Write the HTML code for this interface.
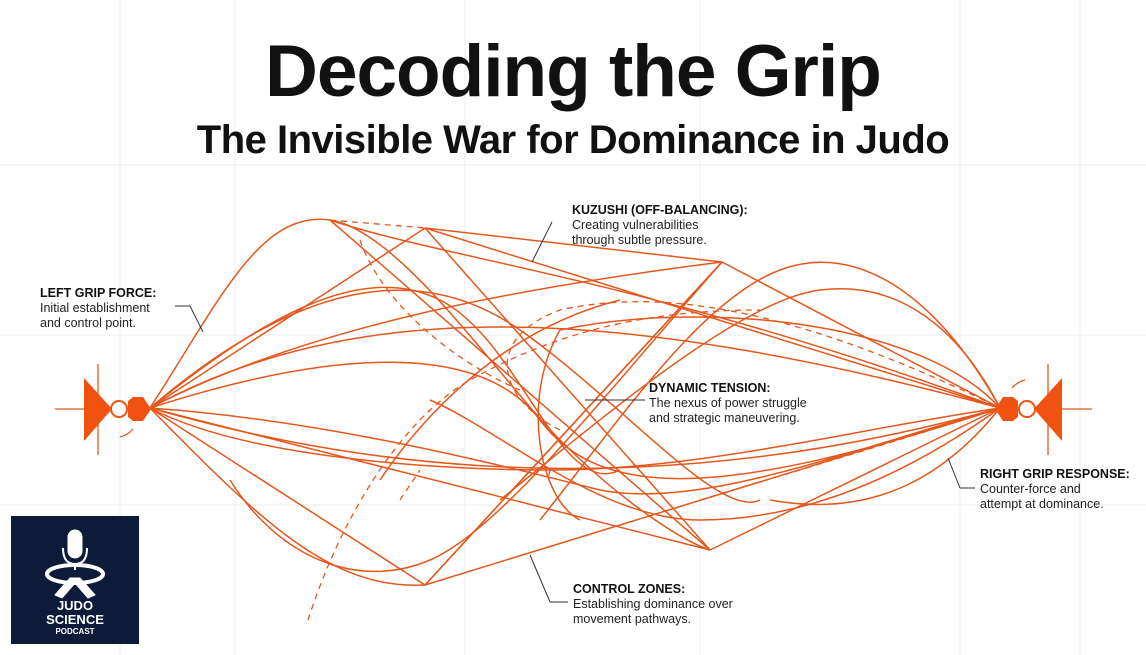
<!DOCTYPE html>
<html><head><meta charset="utf-8"><style>
body{margin:0;width:1146px;height:655px;background:#fff;overflow:hidden;position:relative;font-family:"Liberation Sans",sans-serif}
.t{position:absolute;left:0;width:1146px;text-align:center;color:#111;font-weight:bold}
.lab{position:absolute;font-size:12.5px;color:#222;line-height:15px}
.lab b{font-weight:bold;color:#111}
</style></head><body>
<svg width="1146" height="655" style="position:absolute;left:0;top:0">
<g stroke="#e9eef5" stroke-width="1">
<line x1="120" y1="0" x2="120" y2="655"/><line x1="235" y1="0" x2="235" y2="655"/><line x1="465" y1="0" x2="465" y2="655"/><line x1="700" y1="0" x2="700" y2="655"/><line x1="960" y1="0" x2="960" y2="655"/><line x1="1080" y1="0" x2="1080" y2="655"/>
<line x1="0" y1="165" x2="1146" y2="165"/><line x1="0" y1="335" x2="1146" y2="335"/><line x1="0" y1="505" x2="1146" y2="505"/>
</g>
<g fill="none" stroke="#e4571d" stroke-width="1.5">
<path d="M150 408 C220 300 260 210 330 220 C400 230 500 380 560 440 C620 500 680 540 710 550"/>
<path d="M150 408 L425 228 L722 262"/>
<path d="M150 408 C300 330 500 290 722 262"/>
<path d="M150 408 L425 585 L722 262"/>
<path d="M150 408 C260 520 330 590 425 585"/>
<path d="M150 408 L710 550"/>
<path d="M150 408 C330 350 480 340 540 420 C600 500 720 500 1000 408"/>
<path d="M150 408 C300 450 600 520 1000 408"/>
<path d="M150 408 C350 300 600 300 1000 408"/>
<path d="M150 408 C300 280 420 260 520 330 C620 400 720 520 760 500"/>
<path d="M150 408 C250 460 450 470 550 470 C700 470 850 430 1000 408"/>
<path d="M150 408 C260 320 360 260 440 300 C520 340 560 500 620 470"/>
<path d="M150 408 C320 420 480 460 600 490 C700 510 850 450 1000 408"/>
<path d="M330 220 L710 550"/>
<path d="M330 220 C450 260 650 280 1000 408"/>
<path d="M425 228 L1000 408"/>
<path d="M425 228 L710 550"/>
<path d="M722 262 L1000 408"/>
<path d="M722 262 L425 585"/>
<path d="M710 550 L1000 408"/>
<path d="M425 585 L1000 408"/>
<path d="M1000 408 C940 300 860 240 780 270 C700 300 620 420 540 520"/>
<path d="M1000 408 C960 330 900 280 820 290 C740 300 600 420 500 500"/>
<path d="M1000 408 C920 320 700 300 560 330 C520 400 540 500 580 520"/>
<path d="M1000 408 C900 480 800 520 700 520 C600 520 500 430 430 400"/>
<path d="M1000 408 C950 470 880 520 770 500"/>
<path d="M380 480 C420 420 500 330 620 300"/>
<path d="M230 480 C280 560 360 590 430 560 C500 530 600 400 722 262"/>
</g>
<g fill="none" stroke="#e4571d" stroke-width="1.3" stroke-dasharray="6 5">
<path d="M330 220 L425 228"/>
<path d="M360 240 C380 300 450 360 520 390"/>
<path d="M308 620 C340 520 400 420 470 380 C560 330 650 310 760 310"/>
<path d="M560 430 C500 400 480 340 560 310 C650 290 780 300 1000 408"/>
<path d="M700 500 C800 470 900 440 1000 408"/>
<path d="M550 470 L548 480"/>
<path d="M400 500 L420 470"/>
</g>
<g stroke="#e4571d" stroke-width="1.3" fill="none">
<line x1="55" y1="409" x2="85" y2="409"/><line x1="98" y1="364" x2="98" y2="455"/>
<line x1="1062" y1="409" x2="1092" y2="409"/><line x1="1048" y1="364" x2="1048" y2="455"/>
<path d="M120 437 Q128 435 133 429"/><path d="M1025 380 Q1017 382 1012 388"/>
<line x1="552" y1="222" x2="532" y2="262" stroke="#333" stroke-width="1"/>
<line x1="175" y1="306" x2="190" y2="306" stroke="#333" stroke-width="1"/><line x1="190" y1="306" x2="203" y2="332" stroke="#333" stroke-width="1"/>
<line x1="645" y1="400" x2="585" y2="400" stroke="#333" stroke-width="1"/>
<line x1="975" y1="488" x2="960" y2="488" stroke="#333" stroke-width="1"/><line x1="960" y1="488" x2="948" y2="458" stroke="#333" stroke-width="1"/>
<line x1="568" y1="602" x2="550" y2="602" stroke="#333" stroke-width="1"/><line x1="550" y1="602" x2="530" y2="555" stroke="#333" stroke-width="1"/>
</g>
<g fill="#f2520f">
<polygon points="84,378 84,441 112,409"/>
<path d="M128 401 L133 397 L143 397 L151 409 L143 421 L133 421 L128 417 Z"/>
<polygon points="1062,378 1062,441 1034,409"/>
<path d="M1018 401 L1013 397 L1003 397 L995 409 L1003 421 L1013 421 L1018 417 Z"/>
</g>
<circle cx="119" cy="409" r="8" fill="#fff" stroke="#f2520f" stroke-width="2"/>
<circle cx="1027" cy="409" r="8" fill="#fff" stroke="#f2520f" stroke-width="2"/>
<rect x="11" y="516" width="128" height="128" fill="#0e1a3a"/>
<g fill="#fff" stroke="#fff">
<rect x="68" y="530" width="14" height="28" rx="7"/>
<path d="M63 548 Q63 564 75 564 Q87 564 87 548" fill="none" stroke-width="2"/>
<line x1="75" y1="564" x2="75" y2="570" stroke-width="2"/>
<ellipse cx="75" cy="574" rx="28" ry="9" fill="none" stroke-width="4"/>
<path d="M70 578 L55 595 L62 598 L75 583 L88 598 L95 595 L80 578Z" stroke-width="1"/>
</g>
<text x="75" y="610" fill="#fff" font-family="Liberation Sans" font-weight="bold" font-size="13" text-anchor="middle">JUDO</text>
<text x="75" y="624" fill="#fff" font-family="Liberation Sans" font-weight="bold" font-size="13" text-anchor="middle">SCIENCE</text>
<text x="75" y="634" fill="#fff" font-family="Liberation Sans" font-weight="bold" font-size="8" text-anchor="middle">PODCAST</text>
</svg>
<div class="t" style="top:30px;font-size:73px;letter-spacing:-1px">Decoding the Grip</div>
<div class="t" style="top:118px;font-size:40px;letter-spacing:-0.5px">The Invisible War for Dominance in Judo</div>
<div class="lab" style="left:40px;top:286px"><b>LEFT GRIP FORCE:</b><br>Initial establishment<br>and control point.</div>
<div class="lab" style="left:572px;top:203px"><b>KUZUSHI (OFF-BALANCING):</b><br>Creating vulnerabilities<br>through subtle pressure.</div>
<div class="lab" style="left:649px;top:381px"><b>DYNAMIC TENSION:</b><br>The nexus of power struggle<br>and strategic maneuvering.</div>
<div class="lab" style="left:980px;top:467px"><b>RIGHT GRIP RESPONSE:</b><br>Counter-force and<br>attempt at dominance.</div>
<div class="lab" style="left:573px;top:582px"><b>CONTROL ZONES:</b><br>Establishing dominance over<br>movement pathways.</div>
</body></html>
